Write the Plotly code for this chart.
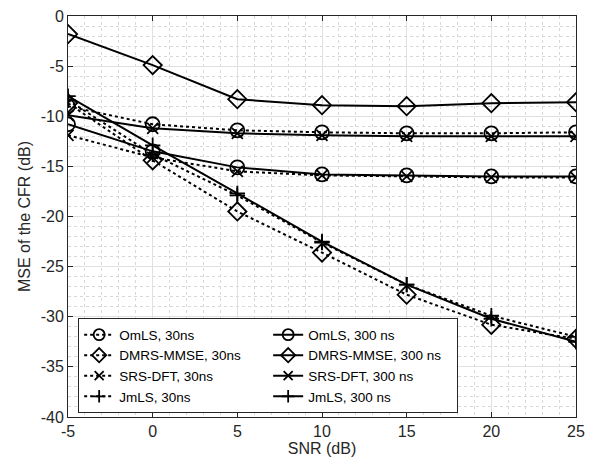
import plotly.graph_objects as go

snr = [-5, 0, 5, 10, 15, 20, 25]

omls_30 = [-9.0, -10.8, -11.4, -11.6, -11.7, -11.7, -11.6]
omls_300 = [-10.8, -13.5, -15.1, -15.8, -15.9, -16.0, -16.0]
dmrs_30 = [-8.7, -14.4, -19.5, -23.6, -27.8, -30.8, -32.2]
dmrs_300 = [-1.8, -4.9, -8.3, -8.9, -9.0, -8.7, -8.6]
srs_30 = [-11.9, -14.1, -15.5, -15.9, -16.0, -16.1, -16.1]
srs_300 = [-9.9, -11.2, -11.7, -11.9, -12.0, -12.0, -12.0]
jmls_30 = [-8.4, -13.8, -17.9, -22.6, -26.8, -29.9, -32.0]
jmls_300 = [-8.0, -12.9, -17.7, -22.5, -26.8, -30.2, -32.5]

series = [
    ("OmLS, 30ns", omls_30, "dot", "circle-open"),
    ("OmLS, 300 ns", omls_300, "solid", "circle-open"),
    ("DMRS-MMSE, 30ns", dmrs_30, "dot", "diamond-open"),
    ("DMRS-MMSE, 300 ns", dmrs_300, "solid", "diamond-open"),
    ("SRS-DFT, 30ns", srs_30, "dot", "x-thin-open"),
    ("SRS-DFT, 300 ns", srs_300, "solid", "x-thin-open"),
    ("JmLS, 30ns", jmls_30, "dot", "cross-thin-open"),
    ("JmLS, 300 ns", jmls_300, "solid", "cross-thin-open"),
]

xticks = [-5, 0, 5, 10, 15, 20, 25]
yticks = [0, -5, -10, -15, -20, -25, -30, -35, -40]

fig = go.Figure()
for name, vals, dash, sym in series:
    big = sym in ("circle-open", "diamond-open")
    fig.add_trace(go.Scatter(
        x=snr, y=vals, name=name, mode="lines+markers", showlegend=False,
        line=dict(color="black", width=2, dash=dash),
        marker=dict(symbol=sym, size=14 if big else 11, color="black",
                    line=dict(color="black", width=1.8)),
    ))
# legend entries (smaller markers, as in the reference legend)
for name, vals, dash, sym in series:
    big = sym in ("circle-open", "diamond-open")
    fig.add_trace(go.Scatter(
        x=[None], y=[None], name=name, mode="lines+markers", showlegend=True,
        line=dict(color="black", width=2, dash=dash),
        marker=dict(symbol=sym, size=11 if big else 9, color="black",
                    line=dict(color="black", width=1.8)),
    ))

font = "Liberation Sans, Arial, sans-serif"
tc = "#262626"
axis_common = dict(
    showline=True, linecolor=tc, linewidth=1, mirror="ticks",
    ticks="inside", ticklen=5, tickcolor=tc,
    showgrid=True, gridcolor="#e0e0e0", gridwidth=1, zeroline=False,
    tickfont=dict(family=font, size=16, color=tc),
    ticklabeloverflow="allow",
)
fig.update_xaxes(
    range=[-5, 25], tickvals=xticks, ticktext=[str(v) for v in xticks],
    title=dict(text="SNR (dB)", font=dict(family=font, size=16, color=tc), standoff=2),
    minor=dict(dtick=1, showgrid=True, gridcolor="#d8d8d8", griddash="dot", gridwidth=1),
    **axis_common)
fig.update_yaxes(
    range=[-40, 0], tickvals=yticks, ticktext=[str(v) for v in yticks],
    title=dict(text="MSE of the CFR (dB)", font=dict(family=font, size=16, color=tc), standoff=6),
    minor=dict(dtick=1, showgrid=True, gridcolor="#d8d8d8", griddash="dot", gridwidth=1),
    **axis_common)

fig.update_layout(
    width=595, height=466,
    margin=dict(l=68, r=19, t=8, b=49),
    plot_bgcolor="white", paper_bgcolor="white",
    font=dict(family=font, size=13.5, color="black"),
    legend=dict(
        orientation="h", x=0.02, y=0.246, xanchor="left", yanchor="top",
        entrywidth=144, entrywidthmode="pixels",
        bgcolor="white", bordercolor=tc, borderwidth=1,
        font=dict(family=font, size=13.5, color="black"),
        tracegroupgap=0, itemwidth=30,
    ),
)

fig.write_html("out.html")
